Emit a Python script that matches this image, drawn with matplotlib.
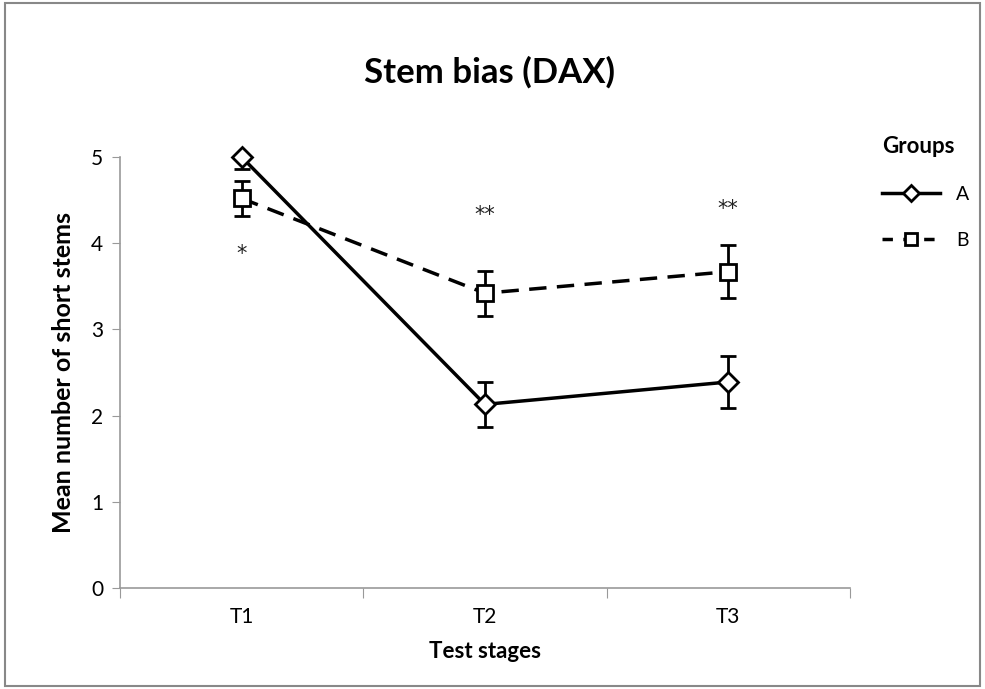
import matplotlib.pyplot as plt
from matplotlib.patches import Rectangle
from matplotlib.lines import Line2D

plt.rcParams['font.family'] = ['Lato', 'DejaVu Sans']

stages = ['T1', 'T2', 'T3']
group_a = [5.0, 2.13, 2.39]
group_a_err_low = [0.14, 0.26, 0.30]
group_a_err_high = [0.0, 0.26, 0.30]   # upper bar at T1 is cut off at the axis top
group_b = [4.52, 3.42, 3.67]
group_b_err = [0.2, 0.26, 0.31]
stars = ['*', '**', '**']
star_y = [3.87, 4.33, 4.40]


def main():
    fig = plt.figure(figsize=(9.85, 6.89), dpi=100)
    ax = fig.add_axes([0.1218, 0.1466, 0.741, 0.6255])
    x = list(range(len(stages)))

    ax.errorbar(x, group_a, yerr=[group_a_err_low, group_a_err_high], color='black', lw=2.5,
                marker='D', markersize=10, mfc='white', mec='black', mew=2,
                elinewidth=2, capsize=6, capthick=2, clip_on=False, zorder=3)
    ax.errorbar(x, group_b, yerr=group_b_err, color='black', lw=2.5, ls=(0, (5, 3)),
                marker='s', markersize=11, mfc='white', mec='black', mew=2,
                elinewidth=2, capsize=6, capthick=2, clip_on=False, zorder=3)

    for i in range(len(stages)):
        ax.text(x[i], star_y[i], stars[i], ha='center', va='center', fontsize=15,
                family='DejaVu Sans', color='#222222')

    ax.set_xlim(-0.5, 2.5)
    ax.set_ylim(0, 5)
    ax.set_xticks([-0.5, 0.5, 1.5, 2.5])
    ax.set_xticklabels([])
    ax.set_xticks(x, minor=True)
    ax.set_xticklabels(stages, minor=True)
    ax.tick_params(axis='x', which='major', length=7, color='#999999', direction='out')
    ax.tick_params(axis='x', which='minor', length=0, labelsize=15, pad=14)
    ax.tick_params(axis='y', length=6, color='#999999', labelsize=15, pad=6)
    ax.set_yticks(range(6))

    for s in ['top', 'right']:
        ax.spines[s].set_visible(False)
    for s in ['left', 'bottom']:
        ax.spines[s].set_color('#999999')
        ax.spines[s].set_linewidth(1.2)

    ax.set_xlabel('Test stages', fontsize=16, fontweight='bold', labelpad=10)
    ax.set_ylabel('Mean number of short stems', fontsize=18, fontweight='bold', labelpad=12)
    fig.text(0.497, 0.895, 'Stem bias (DAX)', ha='center', va='center', fontsize=25, fontweight='bold')

    handles = [Line2D([], [], color='black', lw=2.5, marker='D', markersize=8, mfc='white', mew=2),
               Line2D([], [], color='black', lw=2.5, ls=(0, (3, 3)), marker='s', markersize=9,
                      mfc='white', mew=2)]
    ax.legend(handles, ['A', 'B'], loc='upper left', bbox_to_anchor=(1.02, 1.09), frameon=False,
              fontsize=14, title='Groups', title_fontproperties={'weight': 'bold', 'size': 16},
              handlelength=3, labelspacing=1.5, alignment='left')

    fig.patches.append(Rectangle((0.005, 0.005), 0.99, 0.99, transform=fig.transFigure,
                                 fill=False, edgecolor='#888888', lw=1.5))
    fig.savefig('out.png', dpi=100)


if __name__ == "__main__":
    main()
